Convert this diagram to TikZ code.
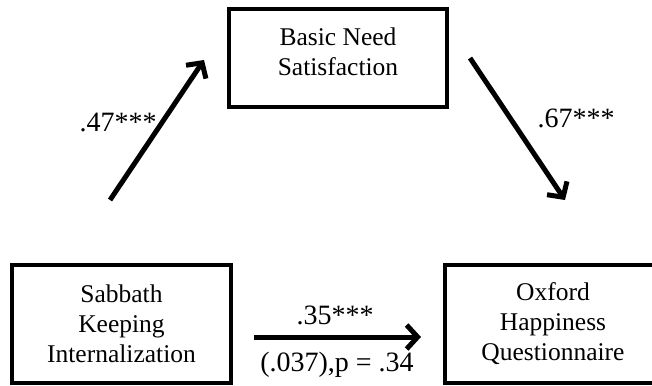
\documentclass[tikz,border=0pt]{standalone}
\usepackage{fontspec}
\setmainfont{Liberation Serif}
\usetikzlibrary{arrows.meta, positioning}

\begin{document}
\begin{tikzpicture}[x=1pt, y=-1pt,
      box/.style={draw, line width=4.5pt, align=center, inner sep=0pt,
                  font=\fontsize{25.5}{30}\selectfont},
      lbl/.style={font=\fontsize{28}{30}\selectfont, inner sep=0pt},
      path/.style={line width=5pt, -{Straight Barb[length=11pt, width=24pt]}}]
    \useasboundingbox (0,0) rectangle (652,385);
    \begin{scope}
    \clip (0,0) rectangle (652,385);
    \node[box, minimum width=218pt, minimum height=98pt, text depth=13pt]
         (need) at (338,58) {Basic Need\\Satisfaction};
    \node[box, minimum width=219pt, minimum height=118pt]
         (sabbath) at (121.5,324) {Sabbath\\Keeping\\Internalization};
    \node[box, minimum width=216pt, minimum height=118pt]
         (oxford) at (553,324) {Oxford\\Happiness\\Questionnaire};
    \end{scope}
    % free-standing arrows
    \coordinate (a) at (110,200);
    \coordinate (a') at (204,60);
    \coordinate (b) at (470,58);
    \coordinate (b') at (565,200);
    \coordinate (c) at (254,337);
    \coordinate (c') at (421,337);
    \draw[path] (a) -- (a');
    \draw[path] (b) -- (b');
    \draw[path] (c) -- (c');
    % coefficients
    \node[lbl] (ab) at (118,122) {.47***};
    \node[lbl] (bc) at (576,118) {.67***};
    \node[lbl] (ac) at (335,315) {.35***};
    \node[lbl] (acp) at (337,365) {(.037),p = .34};
  \end{tikzpicture}
\end{document}
